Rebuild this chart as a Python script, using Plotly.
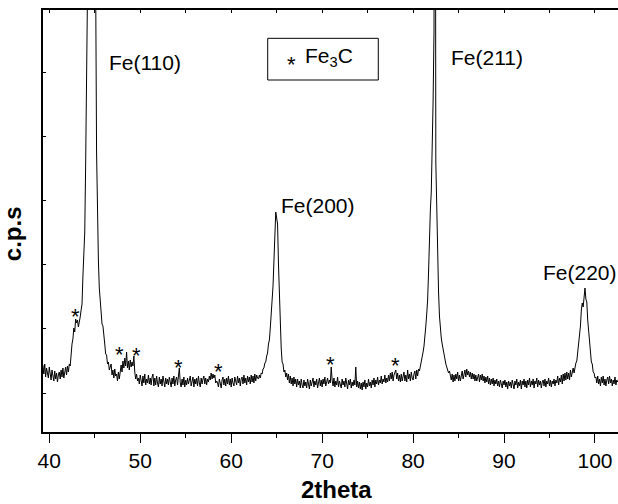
import plotly.graph_objects as go

STEP = 0.1  # 2theta scan step (degrees)

# ---- XRD scan, c.p.s, in segments (start 2theta, values) ----
seg1_start = 39.3
seg1_cps = [335, 290, 340, 275, 320, 295, 270, 325,
            290, 260, 310, 270, 255, 305, 265, 295, 250, 285,
            300, 265, 310, 275, 320, 270, 300, 325, 285, 330,
            300, 340, 330, 400,
            440, 465, 520, 500, 565, 545,
            560, 525, 545, 575, 610, 640,
            780, 880, 1000, 1345, 1780, 2215, 2650, 3080, 3520, 3950, 4300,
            3690, 3190, 2700, 2250, 1400, 1000, 860, 720,
            640, 600, 540, 530, 460, 440, 390, 385, 340, 350, 310, 325, 340, 285,
            310, 270, 315, 280, 290, 255, 300, 265]

seg2_start = 47.8
seg2_cps = [295, 335, 300, 355, 320, 370, 330, 400, 320, 355, 310, 360, 325, 350, 330, 380,
            300, 265, 290, 255,
            270, 240, 285, 250, 230, 280, 245, 290, 235, 265, 245, 285, 240, 270, 235, 275,
            290, 230, 270, 235, 280, 245, 225, 275, 240, 265, 230, 280, 245, 225, 270, 240, 265,
            235, 275, 245, 225, 270, 240, 280, 230, 260, 275, 235, 265, 320, 245, 225, 265, 235,
            275, 225,
            260, 235, 270, 240, 260, 280, 230, 255, 275, 225, 265, 240, 270, 230, 280, 245,
            225, 270, 240, 265, 280, 240, 270, 235, 265, 250,
            280, 260, 295, 265, 290, 270, 285, 245, 255]

seg3_start = 58.5
seg3_cps = [245, 225, 265, 240, 220, 260, 275, 235, 265, 230,
            270, 240, 280, 235, 265, 225, 270, 245, 230, 275,
            250, 235, 280, 245, 270, 230, 265, 275, 240, 285,
            245, 270, 235, 280, 250, 275, 240, 285, 250, 280,
            245, 290, 255, 285, 270]

seg4_start = 63.0
seg4_cps = [265, 285, 270, 295, 290, 315, 320, 345, 350, 380,
            395, 440, 460, 520, 570, 660, 730, 890, 1000, 1100,
            1070, 1040, 840, 670, 510, 420, 350, 340, 300, 310, 275]

seg5_start = 66.1
seg5_cps = [295, 260, 290, 245, 280, 240, 270, 230, 275, 240,
            265, 225, 265, 235, 255, 220, 265, 235, 220, 260,
            230, 250, 220, 265, 235, 215, 260, 230, 250, 270,
            225, 255, 235, 265, 220, 250, 270, 230, 260, 225,
            265, 240, 275, 230, 255, 270, 240, 260,
            245, 325,
            260, 230, 270, 225, 255, 235, 275, 225, 255, 240,
            220, 265, 235, 255, 225, 270, 235, 215, 260, 235,
            265, 220, 250, 230, 260, 235, 325, 225, 255, 220]

seg6_start = 74.1
seg6_cps = [250, 215, 245, 210, 250, 225, 260, 215, 245, 225,
            265, 230, 250, 220, 260, 235, 270, 225, 260, 240,
            275, 235, 260, 245, 280, 240, 265, 250, 285, 245,
            270, 250, 285, 255, 295, 265, 300, 255, 285, 300, 310, 265, 295, 255, 285, 250,
            290, 255, 280, 300, 255, 285, 250, 310, 265, 290,
            255, 300, 270, 260, 290, 305, 265, 310, 280, 315]

seg7_start = 80.7
seg7_cps = [305, 325, 345, 365, 400, 430, 470, 530, 590, 660,
            800, 1000, 1110, 1200, 1400, 1650, 2000, 5000, 1350, 1080,
            880, 700, 580, 510, 470, 440, 410, 385, 360, 340]

seg8_start = 83.7
seg8_cps = [325, 300, 295, 305, 270, 260, 290, 250, 285, 255,
            290, 265, 300, 255, 285, 255, 280, 305, 265, 290,
            310, 275, 315, 285, 305, 275, 300, 265, 295, 265,
            290, 255, 285, 255, 280, 290, 250, 285, 260, 290,
            255, 280, 245, 275, 250, 280, 240, 270, 235, 265,
            240, 270, 230, 260, 240, 265, 230, 255, 225, 260,
            240, 220, 255, 235]

seg9_start = 90.1
seg9_cps = [260, 225, 250, 215, 255, 230, 250, 220, 260, 235,
            215, 255, 235, 265, 220, 250, 230, 260, 215, 255,
            235, 265, 225, 255, 220, 260, 235, 270, 225, 255,
            235, 265, 220, 255, 240, 270, 225, 260, 235, 255,
            220, 250, 260, 230, 265, 225, 255, 240, 270, 230,
            260, 225, 255, 240, 265, 230, 260, 245, 280, 235,
            270, 250, 285, 240, 290, 255, 295, 260, 300]

seg10_start = 97.0
seg10_cps = [265, 295, 260, 310, 275, 300, 320, 295, 335, 345,
             355, 395, 425, 490, 530, 610, 645, 625, 705, 720,
             665, 650, 560, 505, 430, 405, 350, 340, 300, 295,
             270, 275, 245,
             280, 240, 265, 230, 275, 245, 280, 235, 265, 230,
             260, 275, 240, 280, 245, 265, 230, 260, 240, 275,
             235, 260, 250]

segments = [(seg1_start, seg1_cps), (seg2_start, seg2_cps), (seg3_start, seg3_cps),
            (seg4_start, seg4_cps), (seg5_start, seg5_cps), (seg6_start, seg6_cps),
            (seg7_start, seg7_cps), (seg8_start, seg8_cps), (seg9_start, seg9_cps),
            (seg10_start, seg10_cps)]

two_theta, cps = [], []
for start, vals in segments:
    two_theta += [round(start + STEP * i, 2) for i in range(len(vals))]
    cps += vals

# peak labels
peak_labels = ["Fe(110)", "Fe(200)", "Fe(211)", "Fe(220)"]
peak_label_x = [46.40, 65.28, 84.00, 94.01]
peak_label_y = [1850, 1135, 1875, 800]

# Fe3C marker positions
star_x = [42.86, 47.74, 49.57, 54.26, 58.66, 70.97, 78.12]
star_y = [605, 413, 410, 346, 326, 363, 356]

x_ticks = [40, 50, 60, 70, 80, 90, 100]

FONT = "Liberation Sans, Arial, Helvetica, sans-serif"
XR = [39.31, 102.53]
YR = [0, 2110]

fig = go.Figure()
fig.add_trace(go.Scatter(x=two_theta, y=cps, mode="lines",
                         line=dict(color="black", width=1), showlegend=False,
                         hoverinfo="skip"))
# helper trace so the top axis is drawn
fig.add_trace(go.Scatter(x=[two_theta[0]], y=[cps[0]], xaxis="x2", mode="lines",
                         line=dict(width=0), showlegend=False, hoverinfo="skip"))

ann = []
for t, x, y in zip(peak_labels, peak_label_x, peak_label_y):
    ann.append(dict(x=x, y=y, xref="x", yref="y", text=t, showarrow=False,
                    xanchor="left", yanchor="middle",
                    font=dict(family=FONT, size=21, color="black")))
for x, y in zip(star_x, star_y):
    ann.append(dict(x=x, y=y, xref="x", yref="y", text="*", showarrow=False,
                    xanchor="center", yanchor="middle", yshift=-5,
                    font=dict(family=FONT, size=22, color="black")))
# legend box content
ann.append(dict(x=0.433, y=0.8815, xref="paper", yref="paper", text="*", showarrow=False,
                xanchor="center", yanchor="middle", yshift=-4,
                font=dict(family=FONT, size=22, color="black")))
ann.append(dict(x=0.452, y=0.8886, xref="paper", yref="paper", text="Fe<sub>3</sub>C",
                showarrow=False, xanchor="left", yanchor="middle",
                font=dict(family=FONT, size=21, color="black")))
# axis titles
ann.append(dict(x=0.5096, y=-0.1374, xref="paper", yref="paper", text="<b>2theta</b>",
                showarrow=False, xanchor="center", yanchor="middle",
                font=dict(family=FONT, size=24, color="black")))
ann.append(dict(x=-0.053, y=0.470, xref="paper", yref="paper", text="<b>c.p.s</b>",
                showarrow=False, xanchor="center", yanchor="middle", textangle=-90,
                font=dict(family=FONT, size=24, color="black")))

fig.update_layout(
    width=618, height=504,
    margin=dict(l=43, r=0, t=10, b=72),
    paper_bgcolor="white", plot_bgcolor="white",
    font=dict(family=FONT, size=21, color="black"),
    showlegend=False,
    xaxis=dict(range=XR, tickmode="array", tickvals=x_ticks,
               ticks="outside", ticklen=9, tickwidth=1.3, tickcolor="black",
               minor=dict(dtick=5, tick0=0, ticks="outside", ticklen=4,
                          tickwidth=1.3, tickcolor="black"),
               showline=True, linecolor="black", linewidth=1.5,
               showgrid=False, zeroline=False,
               tickfont=dict(family=FONT, size=21, color="black")),
    xaxis2=dict(range=XR, overlaying="x", side="top", anchor="y",
                tickmode="linear", tick0=0, dtick=5,
                ticks="inside", ticklen=3, tickwidth=1.2, tickcolor="black",
                showticklabels=False, showline=True, linecolor="black",
                linewidth=1.5, showgrid=False, zeroline=False),
    yaxis=dict(range=YR, tickmode="linear", tick0=195, dtick=321,
               ticks="inside", ticklen=3, tickwidth=1.2, tickcolor="black",
               showticklabels=False, showline=True, linecolor="black",
               linewidth=1.5, showgrid=False, zeroline=False),
    shapes=[dict(type="rect", xref="paper", yref="paper",
                 x0=0.3908, x1=0.5831, y0=0.8341, y1=0.9329,
                 line=dict(color="black", width=1))],
    annotations=ann,
)

fig.write_html("out.html", config={"displayModeBar": False},
               post_script="document.body.style.margin='0px';document.body.style.overflow='hidden';")
